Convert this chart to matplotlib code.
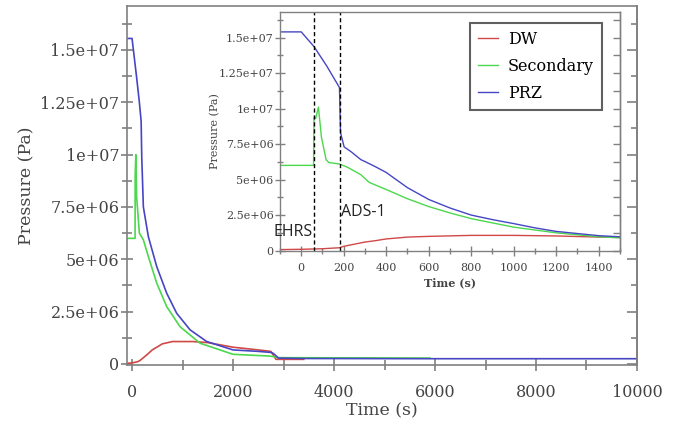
import matplotlib
matplotlib.use("Agg")
import matplotlib.pyplot as plt
from matplotlib.ticker import MultipleLocator, FuncFormatter, NullFormatter

plt.rcParams['font.family'] = ['DejaVu Serif']

# main plot data (time in s, pressure in Pa)
main_prz_t = [-100, 0, 90, 145, 180, 192, 224, 323, 489, 686, 884, 1149, 1479,
              2000, 2500, 2750, 2800, 2900, 3400, 6000, 10000]
main_prz_p = [1.555e7, 1.555e7, 1.37e7, 1.25e7, 1.16e7, 9.9e6, 7.5e6, 6.08e6, 4.65e6,
              3.38e6, 2.42e6, 1.63e6, 1.07e6, 0.67e6, 0.6e6, 0.55e6, 0.5e6, 0.28e6,
              0.26e6, 0.25e6, 0.25e6]

main_sec_t = [-100, 60, 62, 75, 90, 145, 224, 323, 489, 686, 950, 1347,
              2000, 2700, 2800, 2900, 5900]
main_sec_p = [6.0e6, 6.0e6, 9.0e6, 1.0e7, 8.0e6, 6.25e6, 5.93e6, 5.13e6, 3.86e6,
              2.74e6, 1.78e6, 0.99e6, 0.46e6, 0.38e6, 0.35e6, 0.3e6, 0.28e6]

main_dw_t = [-100, 0, 100, 150, 200, 300, 400, 600, 800, 1200, 1500,
             2000, 2500, 2750, 2850, 3400]
main_dw_p = [0.03e6, 0.05e6, 0.1e6, 0.15e6, 0.25e6, 0.45e6, 0.67e6, 0.96e6, 1.07e6,
             1.07e6, 1.02e6, 0.8e6, 0.67e6, 0.6e6, 0.22e6, 0.22e6]

# inset data (first 1500 s)
ins_prz_t = [-100, 0, 60, 120, 180, 185, 202, 234, 281, 300, 350, 400, 500, 600,
             700, 800, 900, 1000, 1100, 1200, 1300, 1400, 1500]
ins_prz_p = [1.54e7, 1.54e7, 1.437e7, 1.3e7, 1.148e7, 8.3e6, 7.3e6, 6.97e6, 6.4e6,
             6.27e6, 5.9e6, 5.5e6, 4.43e6, 3.6e6, 3.0e6, 2.5e6, 2.18e6, 1.9e6, 1.6e6,
             1.35e6, 1.2e6, 1.05e6, 0.97e6]

ins_sec_t = [-100, 58, 60, 68, 81, 95, 117, 130, 180, 220, 250, 280, 320, 400, 500,
             600, 700, 800, 900, 1000, 1200, 1400, 1500]
ins_sec_p = [6.0e6, 6.0e6, 9.4e6, 9.3e6, 1.01e7, 8.0e6, 6.4e6, 6.2e6, 6.1e6, 5.85e6,
             5.6e6, 5.35e6, 4.8e6, 4.3e6, 3.65e6, 3.1e6, 2.65e6, 2.25e6, 1.95e6,
             1.65e6, 1.25e6, 0.97e6, 0.9e6]

ins_dw_t = [-100, 0, 100, 180, 200, 250, 300, 350, 400, 500, 600, 800, 1000,
            1200, 1400, 1500]
ins_dw_p = [0.07e6, 0.09e6, 0.13e6, 0.2e6, 0.3e6, 0.45e6, 0.6e6, 0.7e6, 0.82e6,
            0.95e6, 1.0e6, 1.07e6, 1.07e6, 1.03e6, 0.95e6, 0.92e6]

event_times = [60, 183]
event_labels = ["EHRS", "ADS-1"]

c_dw = '#d04848'
c_sec = '#4cd84c'
c_prz = '#4646c4'
spine_c = '#808080'
tick_c = '#444444'

fmt = FuncFormatter(lambda v, pos: '%g' % v)


def right_ticks(a, lw, major_len, minor_len):
    # ticks on the right side point inward only
    r = a.secondary_yaxis('right')
    r.yaxis.set_major_locator(MultipleLocator(2.5e6))
    r.yaxis.set_minor_locator(MultipleLocator(1.25e6))
    r.yaxis.set_major_formatter(NullFormatter())
    r.tick_params(which='both', direction='in', color=spine_c, width=lw)
    r.tick_params(which='major', length=major_len)
    r.tick_params(which='minor', length=minor_len)
    r.spines['right'].set_color(spine_c)
    r.spines['right'].set_linewidth(lw)


fig = plt.figure(figsize=(6.73, 4.29), dpi=100)

# main axes
ax = fig.add_axes([0.1887, 0.1492, 0.7578, 0.8368])
ax.plot(main_dw_t, main_dw_p, color=c_dw, lw=1.2)
ax.plot(main_sec_t, main_sec_p, color=c_sec, lw=1.2)
ax.plot(main_prz_t, main_prz_p, color=c_prz, lw=1.2)
ax.set_xlim(-100, 10000)
ax.set_ylim(-5e4, 1.71e7)
ax.xaxis.set_major_locator(MultipleLocator(2000))
ax.xaxis.set_minor_locator(MultipleLocator(1000))
ax.yaxis.set_major_locator(MultipleLocator(2.5e6))
ax.yaxis.set_minor_locator(MultipleLocator(1.25e6))
ax.xaxis.set_major_formatter(fmt)
ax.yaxis.set_major_formatter(fmt)
ax.tick_params(which='both', direction='inout', right=False, top=False,
               color=spine_c, labelcolor=tick_c, labelsize=11.5, width=1.2)
ax.tick_params(which='major', length=9)
ax.tick_params(which='minor', length=7)
ax.tick_params(axis='x', which='major', pad=9)
ax.tick_params(axis='y', which='major', pad=1)
for s in ax.spines.values():
    s.set_color(spine_c)
    s.set_linewidth(1.2)
ax.set_xlabel("Time (s)", fontsize=12.5, color=tick_c)
ax.set_ylabel("Pressure (Pa)", fontsize=12.5, color=tick_c)
ax.xaxis.set_label_coords(0.5, -0.105)
ax.yaxis.set_label_coords(-0.18, 0.5)
right_ticks(ax, 1.2, 7, 4)

# inset axes
axi = fig.add_axes([0.4160, 0.4149, 0.5052, 0.5571])
axi.plot(ins_dw_t, ins_dw_p, color=c_dw, lw=1.0, label="DW")
axi.plot(ins_sec_t, ins_sec_p, color=c_sec, lw=1.0, label="Secondary")
axi.plot(ins_prz_t, ins_prz_p, color=c_prz, lw=1.0, label="PRZ")
axi.set_xlim(-100, 1500)
axi.set_ylim(-3e4, 1.68e7)
axi.xaxis.set_major_locator(MultipleLocator(200))
axi.xaxis.set_minor_locator(MultipleLocator(100))
axi.yaxis.set_major_locator(MultipleLocator(2.5e6))
axi.yaxis.set_minor_locator(MultipleLocator(1.25e6))
axi.xaxis.set_major_formatter(fmt)
axi.yaxis.set_major_formatter(fmt)
axi.tick_params(which='both', direction='inout', right=False, top=False,
                color=spine_c, labelcolor=tick_c, labelsize=8, width=1.0)
axi.tick_params(which='major', length=7)
axi.tick_params(which='minor', length=5)
axi.tick_params(axis='x', which='major', pad=5)
axi.tick_params(axis='y', which='major', pad=1)
for s in axi.spines.values():
    s.set_color(spine_c)
    s.set_linewidth(1.0)
axi.set_xlabel("Time (s)", fontsize=8, color=tick_c, fontweight='bold')
axi.set_ylabel("Pressure (Pa)", fontsize=8, color=tick_c)
axi.xaxis.set_label_coords(0.5, -0.11)
axi.yaxis.set_label_coords(-0.175, 0.5)
right_ticks(axi, 1.0, 5, 5)

for t in event_times:
    axi.axvline(t, color='black', ls='--', lw=1.0, dashes=(3, 2))
axi.text(event_times[0] - 4, 1.3e6, event_labels[0], ha='right', va='center',
         fontsize=11.5, family='Open Sans', color='#222222', clip_on=False)
axi.text(event_times[1] + 6, 2.75e6, event_labels[1], ha='left', va='center',
         fontsize=11.5, family='Open Sans', color='#222222')

leg = axi.legend(loc='upper right', bbox_to_anchor=(0.8945, 0.9464),
                 bbox_transform=fig.transFigure, borderaxespad=0,
                 fontsize=11.5, handlelength=1.3, handletextpad=0.6,
                 labelspacing=0.62, borderpad=0.5, fancybox=False,
                 framealpha=1)
leg.get_frame().set_edgecolor('#606060')
leg.get_frame().set_linewidth(1.5)

fig.savefig("out.png", dpi=100)
